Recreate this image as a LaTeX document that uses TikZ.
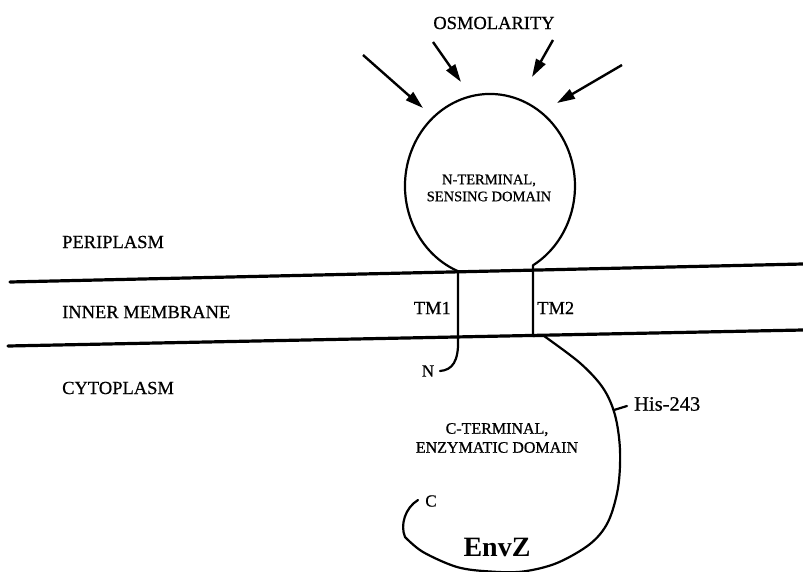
\documentclass[tikz,border=0pt]{standalone}
\usepackage{fontspec}
\setmainfont{Liberation Serif}[UprightFeatures={FakeBold=0.6}]
\usetikzlibrary{arrows.meta}

\begin{document}
\begin{tikzpicture}[x=1pt,y=-1pt,
  membrane/.style={line width=3.2pt, line cap=round},
  chain/.style={line width=2.2pt, line cap=round, line join=round},
  stimulus/.style={line width=2.4pt, -{Triangle[length=18pt,width=10.5pt]}},
  region/.style={font=\fontsize{18.5}{21}\selectfont, anchor=west, inner sep=0pt},
  tmlabel/.style={font=\fontsize{18.5}{21}\selectfont, inner sep=0pt},
  domaintext/.style={font=\fontsize{14.5}{17}\selectfont, align=center, inner sep=0pt},
  terminus/.style={font=\fontsize{17}{20}\selectfont, inner sep=0pt},
]
\useasboundingbox (0,0) rectangle (803,572);

% membrane boundaries
\draw[membrane] (10,282) -- (803,264);
\draw[membrane] (8,346) -- (803,330);

% compartment labels
\node[region] (peri) at (62,242) {PERIPLASM};
\node[region] (inner) at (62,312) {INNER MEMBRANE};
\node[region] (cyto) at (62,388) {CYTOPLASM};

% osmolarity stimulus
\node[font=\fontsize{18.5}{21}\selectfont, inner sep=0pt] (osm) at (494,23) {OSMOLARITY};
\coordinate (a1s) at (363,55);  \coordinate (a1e) at (423,108);
\coordinate (a2s) at (433,42);  \coordinate (a2e) at (461,82);
\coordinate (a3s) at (553,40);  \coordinate (a3e) at (532,77);
\coordinate (a4s) at (622,65);  \coordinate (a4e) at (557,103);
\draw[stimulus] (a1s) -- (a1e);
\draw[stimulus] (a2s) -- (a2e);
\draw[stimulus] (a3s) -- (a3e);
\draw[stimulus] (a4s) -- (a4e);

% N-terminal tail, TM1, periplasmic loop, TM2
\coordinate (nend) at (440,371);
\coordinate (tm1b) at (458,338);
\coordinate (tm1t) at (458,271.2);
\coordinate (tm2b) at (533,336);
\draw[chain] (nend) .. controls (452,370) and (459,362) .. (tm1b) -- (tm1t)
  arc[start angle=112.1, end angle=419.6, x radius=85, y radius=92] -- (tm2b);

% cytoplasmic domain ending in the C-terminal hook
\draw[chain] (tm2b) -- (544,336)
  plot[smooth, tension=0.55] coordinates {(544,336) (580,363) (603,388)
  (615,415) (620,450) (618,488) (608,522) (590,544) (557,563) (523,571.5)
  (490,571.5) (457,567) (423,552) (405,537)}
  .. controls (400,525) and (405,508) .. (418,500);

% His-243 marker
\coordinate (hisa) at (614,410);
\coordinate (hisb) at (627,406);
\draw[chain] (hisa) -- (hisb);
\node[font=\fontsize{20.5}{22}\selectfont, anchor=west, inner sep=0pt] (his) at (634,404) {His-243};

% transmembrane labels
\node[tmlabel, anchor=east] (tm1) at (451,308) {TM1};
\node[tmlabel, anchor=west] (tm2) at (537,308) {TM2};

% domain labels
\node[domaintext] (sens) at (489,188) {N-TERMINAL,\\SENSING DOMAIN};
\node[domaintext, font=\fontsize{16}{19}\selectfont] (enz) at (497,438) {C-TERMINAL,\\ENZYMATIC DOMAIN};
\node[terminus] (nlab) at (428,371) {N};
\node[terminus] (clab) at (431,501) {C};
\node[font=\fontsize{28}{30}\selectfont\bfseries, inner sep=0pt] (envz) at (497,547) {EnvZ};
\end{tikzpicture}
\end{document}
